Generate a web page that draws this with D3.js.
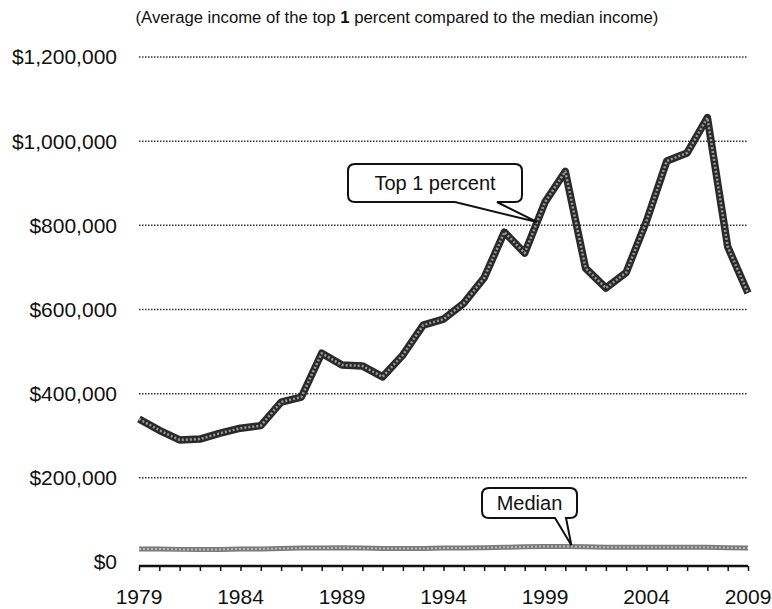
<!DOCTYPE html>
<html><head><meta charset="utf-8">
<script src="https://cdn.jsdelivr.net/npm/d3@7"></script>
<style>body{margin:0;background:#fff}svg{display:block}</style>
</head><body>
<svg id="chart" width="772" height="609"></svg>
<script>
const years = d3.range(1979, 2010);
const top1 = [340000,313000,290000,292000,306000,318000,324000,380000,392000,496000,468000,466000,440000,492000,563000,577000,615000,675000,784000,734000,855000,928000,698000,651000,688000,810000,953000,972000,1056000,749000,639000];
const median = [31000,31000,30000,30000,30000,31000,31000,32000,33000,33000,34000,33000,32000,32000,32000,33000,33000,34000,35000,36000,37000,37000,36000,35000,35000,35000,35000,35000,35000,34000,33000];
const yTicks = [0,200000,400000,600000,800000,1000000,1200000];
const xTickLabels = [1979,1984,1989,1994,1999,2004,2009];
const title = ["(Average income of the top ", "1", " percent compared to the median income)"];
const callouts = [
  {label:"Top 1 percent", year:1998.6, value:808000},
  {label:"Median", year:2000.3, value:40000}
];

const svg = d3.select("#chart");
const font = "Arial, 'Liberation Sans', sans-serif";
const x = d3.scaleLinear().domain([1979,2009]).range([139,748]);
const y = d3.scaleLinear().domain([0,1200000]).range([562,57]);

// title
const t = svg.append("text").attr("x",397).attr("y",23).attr("text-anchor","middle")
  .attr("font-family",font).attr("font-size",16.7).attr("fill","#111");
title.forEach((s,i)=>t.append("tspan").text(s).attr("font-weight", i===1?"bold":"normal"));

// grid lines
svg.append("g").selectAll("line").data(yTicks.filter(d=>d>0)).join("line")
  .attr("x1",x(1979)).attr("x2",x(2009)).attr("y1",d=>y(d)).attr("y2",d=>y(d))
  .attr("stroke","#333").attr("stroke-width",1.5).attr("stroke-dasharray","1.5,1.5");

// y axis labels
const fmt = d3.format("$,");
svg.append("g").selectAll("text").data(yTicks).join("text")
  .attr("x",117).attr("y",d=>y(d)).attr("dy","0.35em").attr("text-anchor","end")
  .attr("font-family",font).attr("font-size",21).attr("fill","#111")
  .text(d=>fmt(d));

// x axis
const xAxis = d3.axisBottom(x).tickValues(years).tickSize(5).tickFormat("");
const gx = svg.append("g").attr("transform",`translate(0,${y(0)+4})`).call(xAxis);
gx.select(".domain").attr("stroke","#111").attr("stroke-width",2.5).attr("d",`M${x(1979)},0H${x(2009)}`);
gx.selectAll(".tick line").attr("stroke","#111").attr("stroke-width",1.5);
svg.append("g").selectAll("text").data(xTickLabels).join("text")
  .attr("x",d=>x(d)).attr("y",604).attr("text-anchor","middle")
  .attr("font-family",font).attr("font-size",21).attr("fill","#111").text(d=>d);

// lines
const line = d3.line().x((d,i)=>x(years[i])).y(d=>y(d));
svg.append("path").datum(median).attr("d",line).attr("fill","none")
  .attr("stroke","#7a7a7a").attr("stroke-width",5);
svg.append("path").datum(median).attr("d",line).attr("fill","none")
  .attr("stroke","#bdbdbd").attr("stroke-width",2).attr("stroke-dasharray","2,2");
svg.append("path").datum(top1).attr("d",line).attr("fill","none")
  .attr("stroke","#2a2a2a").attr("stroke-width",7.5).attr("stroke-linejoin","round");
svg.append("path").datum(top1).attr("d",line).attr("fill","none")
  .attr("stroke","#9a9a9a").attr("stroke-width",2.5).attr("stroke-dasharray","2,2").attr("stroke-linejoin","round");

// callouts
function callout(c, box, ptr){
  const tx = x(c.year), ty = y(c.value);
  const {l,tp,w,h,r} = box;
  const b = tp+h;
  const p = `M${l+r},${tp} H${l+w-r} Q${l+w},${tp} ${l+w},${tp+r} V${b-r} Q${l+w},${b} ${l+w-r},${b}`+
    ` H${ptr[1]} L${tx},${ty} L${ptr[0]},${b} H${l+r} Q${l},${b} ${l},${b-r} V${tp+r} Q${l},${tp} ${l+r},${tp} Z`;
  svg.append("path").attr("d",p).attr("fill","#fff").attr("stroke","#111").attr("stroke-width",2);
  svg.append("text").attr("x",l+w/2).attr("y",tp+h/2).attr("dy","0.36em").attr("text-anchor","middle")
    .attr("font-family",font).attr("font-size",20).attr("fill","#111").text(c.label);
}
callout(callouts[0], {l:348,tp:164,w:174,h:38,r:7}, [455,497]);
callout(callouts[1], {l:482,tp:488,w:95,h:30,r:7}, [555,566]);
</script>
</body></html>
